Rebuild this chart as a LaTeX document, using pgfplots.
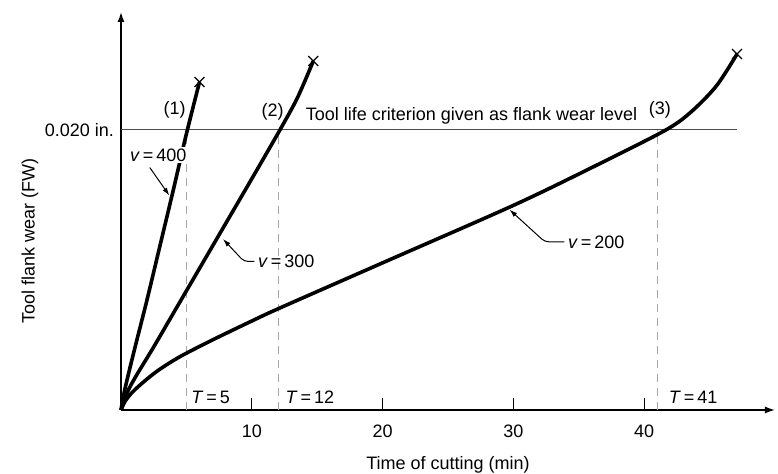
\documentclass[border=0pt]{standalone}
\usepackage{fontspec}
\setmainfont{Liberation Sans}
\usepackage{pgfplots}
\pgfplotsset{compat=1.18}
\usetikzlibrary{arrows.meta}

\begin{document}
\begin{tikzpicture}[font=\fontsize{9}{11}\selectfont]
\begin{axis}[
    anchor=origin, at={(0,0)},
    width=327pt, height=199pt, scale only axis,
    xmin=0, xmax=50, ymin=0, ymax=28.4,
    axis lines=left,
    axis line style={line width=0.7pt, -{Latex[length=5pt,width=3.5pt]}},
    xtick={10,20,30,40},
    ytick={20}, yticklabels={0.020 in.},
    tick align=inside,
    major tick length=6pt,
    ytick style={draw=none},
    xtick style={line width=0.5pt,black},
    xticklabel shift=4pt,
    /pgf/number format/assume math mode=true,
    xlabel={Time of cutting (min)},
    ylabel={Tool flank wear (FW)},
    every axis x label/.style={at={(axis description cs:0.5,-0.138)},anchor=center},
    every axis y label/.style={at={(axis description cs:-0.139,0.425)},rotate=90,anchor=center},
    clip=false,
  ]
  % flank wear criterion and tool lives
  \addplot[gray!60!black, line width=0.6pt] coordinates {(0,20) (47.1,20)};
  \addplot[gray!70, line width=0.4pt, dash pattern=on 4pt off 3pt] coordinates {(5,0) (5,20)};
  \addplot[gray!70, line width=0.4pt, dash pattern=on 4pt off 3pt] coordinates {(12,0) (12,20)};
  \addplot[gray!70, line width=0.4pt, dash pattern=on 4pt off 3pt] coordinates {(41,0) (41,20)};

  % v = 400
  \addplot[black, line width=1.8pt, smooth, tension=0.5] coordinates {
    (0,0) (0.3,1.5) (1,4.2) (2,7.9) (3,11.8) (4,15.7) (5,19.7) (6,23.4)};
  % v = 300
  \addplot[black, line width=1.8pt, smooth, tension=0.5] coordinates {
    (0,0) (0.5,1.3) (1.2,2.5) (2.5,4.5) (4.5,7.7) (7.5,12.5) (10,16.5) (12.1,19.9) (13.5,22.3) (14.7,24.9)};
  % v = 200
  \addplot[black, line width=1.8pt, smooth, tension=0.5] coordinates {
    (0,0) (0.3,0.6) (0.8,1.2) (1.6,1.9) (2.8,2.8) (4.5,3.8) (7,5.0) (10,6.35) (12.2,7.3)
    (20,10.5) (30,14.6) (36,17.3) (41.5,19.9) (43.5,21.2) (45.5,23.1) (47.1,25.4)};

  % end of tool life
  \addplot[only marks, mark=x, mark size=3.5pt, line width=0.6pt] coordinates {(6,23.4) (14.7,24.9) (47.1,25.4)};

  \node at (axis cs:4.1,21.4) {(1)};
  \node at (axis cs:11.6,21.3) {(2)};
  \node at (axis cs:41.2,21.4) {(3)};
  \node[anchor=south] at (axis cs:26.8,19.9) {Tool life criterion given as flank wear level};

  \node[fill=white, inner sep=1pt] at (axis cs:2.85,18.2) {\textit{v}\,=\,400};
  \draw[line width=0.5pt, -{Latex[length=4pt,width=2.5pt]}] (axis cs:2.2,17.3) -- (axis cs:3.7,15.3);

  \node[anchor=west, inner sep=1pt] at (axis cs:10.3,10.6) {\textit{v}\,=\,300};
  \draw[line width=0.5pt, rounded corners=2pt, -{Latex[length=4pt,width=2.5pt]}]
    (axis cs:10.2,10.6) -- (axis cs:9.4,10.6) -- (axis cs:7.8,12.2);

  \node[anchor=west, inner sep=1pt] at (axis cs:34.0,12.0) {\textit{v}\,=\,200};
  \draw[line width=0.5pt, rounded corners=2pt, -{Latex[length=4pt,width=2.5pt]}]
    (axis cs:33.9,12.0) -- (axis cs:32.4,12.0) -- (axis cs:29.7,14.3);

  \node[anchor=south west, inner sep=1pt] at (axis cs:5.2,0.3) {\textit{T}\,=\,5};
  \node[anchor=south west, inner sep=1pt] at (axis cs:12.4,0.3) {\textit{T}\,=\,12};
  \node[anchor=south west, inner sep=1pt] at (axis cs:41.7,0.3) {\textit{T}\,=\,41};
\end{axis}
\pgfresetboundingbox
\useasboundingbox (-60.5pt,-32pt) rectangle (328.5pt,205pt);
\end{tikzpicture}
\end{document}
